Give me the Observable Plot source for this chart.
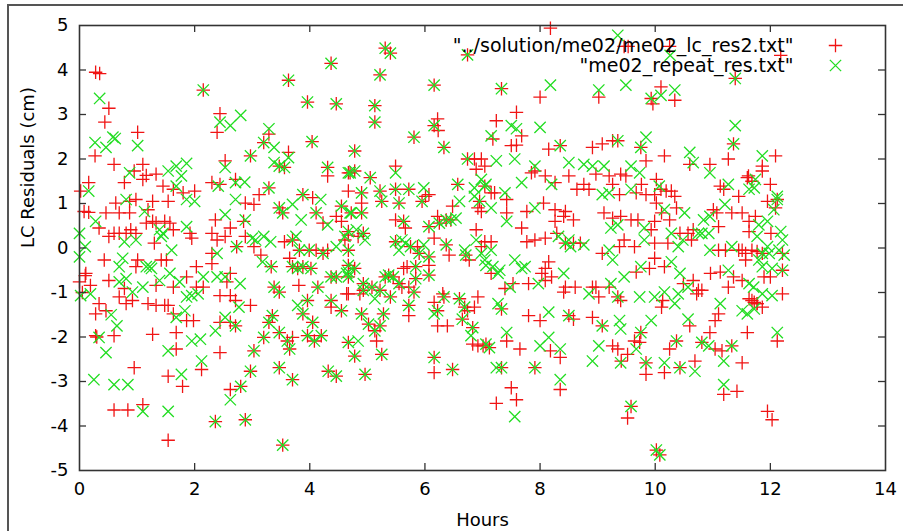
<!DOCTYPE html>
<html>
<head>
<meta charset="utf-8">
<script src="https://cdn.jsdelivr.net/npm/d3@7"></script>
<script src="https://cdn.jsdelivr.net/npm/@observablehq/plot@0.6"></script>
<style>
html, body { margin: 0; padding: 0; background: #fff; }
#wrap { position: relative; width: 903px; height: 531px; overflow: hidden; }
#border { position: absolute; left: 7px; top: 4px; width: 910px; height: 540px; border-left: 2px solid #555; border-top: 2px solid #555; }
#chart { position: absolute; left: 0; top: 0; }
</style>
</head>
<body>
<div id="wrap"><div id="chart"></div><div id="border"></div></div>
<script>
// Series names (legend)
const seriesNames = ["\"../solution/me02/me02_lc_res2.txt\"", "\"me02_repeat_res.txt\""];
const xLabel = "Hours";
const yLabel = "LC Residuals (cm)";
const xTicks = [0, 2, 4, 6, 8, 10, 12, 14];
const yTicks = [-5, -4, -3, -2, -1, 0, 1, 2, 3, 4, 5];

// [hours, residual cm] — points present in both files (same value)
const bothPoints = [
[2.15,3.55],
[4.37,4.15],[3.63,3.77],[3.96,3.28],[4.46,3.24],[3.2,2.37],[4.04,2.39],[3.47,1.84],[3.56,1.81],[2.97,2.07],[3.29,1.35],[3.47,0.9],[3.53,0.79],[3.88,1.2],[4.31,1.81],[4.11,0.79],[4.55,0.94],[4.7,1.69],[2.73,0.03],[3.7,0.18],[3.82,-0.05],[3.99,-0.05],[4.23,-0.12],[3.33,-0.42],[3.7,-0.42],[3.79,-0.46],[3.88,-0.42],[4.02,-0.46],[4.37,-0.65],[4.46,-0.65],[3.38,-0.88],[3.47,-0.99],[3.96,-1.18],[4.14,-0.88],[4.37,-1.18],[4.55,-1.41],[3.88,-1.48],[4.05,-1.67],[2.71,-1.75],[3.35,-1.52],[3.29,-1.67],[3.47,-1.9],[3.2,-2.01],[3.61,-2.09],[3.65,-2.27],[3.96,-1.97],[4.08,-2.09],[4.2,-1.97],[3.03,-2.31],[2.97,-2.77],[3.47,-2.69],[3.7,-2.96],[4.32,-2.77],[4.46,-2.88],[2.8,-3.11],[2.36,-3.9],[2.88,-3.86],[3.53,-4.43],
[5.31,4.49],[5.4,4.38],[6.74,4.34],[5.22,3.89],[6.16,3.66],[5.13,3.2],[5.13,2.83],[6.16,2.75],[5.81,2.49],[6.33,2.26],[4.78,2.18],[4.67,1.69],[4.78,1.73],[5.05,1.58],[4.9,1.24],[4.9,0.79],[4.72,0.79],[5.22,1.28],[5.25,1.05],[5.49,1.32],[5.55,1.01],[5.72,1.32],[5.95,1.05],[5.63,0.6],[6.25,0.56],[6.37,0.63],[6.45,0.63],[6.57,1.43],[4.67,0.37],[4.93,0.33],[4.67,-0.05],[6.07,0.48],[6.37,0.07],[6.71,-0.16],[5.49,0.14],[5.75,0.03],[5.9,-0.12],[6.07,-0.2],[6.74,2.0],[6.95,1.05],[4.67,-0.39],[4.67,-0.65],[4.78,-0.46],[4.93,-0.8],[5.08,-0.88],[5.22,-0.95],[5.31,-0.65],[5.37,-0.61],[5.45,-0.65],[5.55,-0.8],[5.84,-0.69],[6.07,-0.61],[5.84,-0.42],[4.93,-0.95],[4.9,-1.48],[5.28,-1.48],[5.4,-1.1],[5.72,-1.29],[5.81,-0.99],[6.22,-1.41],[6.33,-1.1],[6.6,-1.14],[6.69,-1.33],[6.65,-1.6],[6.83,-1.79],[7.06,-2.16],[5.02,-1.71],[5.13,-1.86],[5.22,-1.75],[5.25,-2.39],[4.78,-2.43],[4.96,-2.84],[4.67,-2.12],[6.16,-2.46],[6.48,-2.73],
[7.33,3.58],[8.35,2.3],[9.35,2.41],[7.04,1.39],[8.44,0.11],[7.33,-1.37],[8.5,-1.52],[9.08,-1.75],[7.12,-2.24],[7.33,-2.69],[7.91,-2.69],[9.35,-1.1],
[9.93,3.36],[11.39,3.81],[11.36,2.34],[9.75,2.26],[9.75,-1.9],[10.37,-2.09],[10.81,-2.12],[11.33,-2.2],[9.84,-2.58],[10.43,-2.69],[9.58,-3.56],[10.02,-4.54],[10.08,-4.65],
[12.12,1.09],[11.86,-0.12],[12.21,-0.5]
];

// points only in the first file (red +)
const redOnlyPoints = [
[0.28,3.95],[0.35,3.92],[0.51,3.14],[0.44,2.83],[1.01,2.6],[0.27,2.07],[0.6,1.88],[1.1,1.88],[0.95,1.73],[1.16,1.63],[1.33,1.66],[0.16,1.47],[0.02,1.28],[0.78,1.47],[1.1,1.54],[1.45,1.39],[1.63,1.32],[1.8,1.24],[2.0,1.28],[1.54,1.05],[0.63,1.01],[0.87,1.05],[0.98,1.09],[1.27,1.05],[1.19,0.86],[0.08,0.82],[0.16,0.8],[0.46,0.79],[0.69,0.79],[0.87,0.79],[0.34,0.45],[0.51,0.26],[0.6,0.33],[0.69,0.33],[0.81,0.33],[0.89,0.41],[0.98,0.33],[1.16,0.56],[1.27,0.6],[1.33,0.56],[1.48,0.6],[1.57,0.56],[1.3,0.11],[1.63,0.41],[1.92,0.33],[1.95,0.22],[0.43,-0.27],[0.0,-0.76],[0.11,-0.57],[0.19,-0.84],[0.34,-1.25],[0.46,-1.41],[0.28,-1.48],[0.51,-0.73],[0.98,-0.42],[1.01,-0.27],[0.78,-0.91],[0.69,-1.1],[0.81,-1.25],[0.92,-1.18],[1.19,-1.25],[1.33,-1.29],[1.48,-1.29],[1.54,-1.29],[1.33,-0.84],[1.42,-0.27],[1.51,-0.27],[1.63,-0.88],[1.63,-1.48],[1.86,-1.63],[1.98,-1.63],[0.28,-1.97],[0.6,-1.97],[1.27,-1.94],[1.68,-2.27],[1.68,-1.9],[2.12,-2.73],[0.95,-2.69],[1.54,-2.88],[1.79,-3.11],[0.6,-3.64],[0.84,-3.64],[1.1,-3.52],[1.54,-4.32],[2.03,-0.88],[2.15,-0.88],[2.03,-0.42],[1.86,-0.65],[0.05,-1.0],[0.1,-0.62],[0.3,-2.0],
[2.44,3.02],[2.39,2.6],[3.29,2.56],[3.63,2.15],[2.53,1.96],[2.3,1.47],[2.44,1.43],[2.71,1.54],[2.88,1.01],[3.03,0.98],[3.12,1.2],[4.05,1.13],[2.36,0.63],[2.62,0.45],[2.85,0.6],[4.23,0.56],[4.46,0.71],[4.55,0.6],[4.31,1.62],[2.3,0.33],[2.39,0.18],[2.53,0.26],[2.3,-0.12],[2.88,0.26],[3.03,0.03],[3.56,0.14],[4.11,-0.05],[4.31,-0.05],[4.61,0.18],[4.67,0.29],[3.15,-0.16],[3.65,-0.23],[2.3,-0.35],[2.62,-0.57],[2.56,-0.76],[2.44,-1.07],[2.62,-1.07],[2.71,-1.18],[2.97,-1.29],[3.81,-0.84],[4.37,-1.33],[4.64,-1.03],[2.44,-1.67],[2.62,-1.67],[3.7,-2.01],[2.44,-2.35],[2.62,-3.18],
[6.22,2.9],[6.23,2.64],[5.49,1.84],[4.67,1.28],[4.9,1.01],[6.01,1.16],[6.07,1.2],[5.49,0.63],[5.66,0.45],[6.22,0.71],[6.48,0.94],[4.84,0.26],[6.16,0.22],[6.42,-0.16],[6.77,-0.27],[6.89,0.41],[6.98,0.82],[6.92,0.9],[5.87,0.03],[6.86,2.0],[6.98,2.0],[6.89,1.77],[5.6,-0.88],[5.72,-0.88],[5.63,-0.46],[5.69,-0.42],[6.07,-0.39],[4.67,-1.03],[4.87,-1.03],[5.72,-1.52],[6.16,-1.22],[6.31,-1.03],[6.22,-1.75],[6.39,-1.75],[6.74,-1.41],[6.86,-1.33],[6.92,-1.1],[6.83,-2.16],[6.92,-2.2],[7.01,-2.2],[5.16,-2.09],[6.16,-2.8],[6.98,0.03],
[8.18,4.94],[8.0,3.39],[9.02,3.39],[7.59,3.05],[7.24,2.86],[7.68,2.52],[7.18,2.45],[7.5,2.3],[7.59,2.31],[8.15,2.22],[8.91,2.26],[9.08,2.34],[9.26,2.41],[7.04,1.84],[7.85,1.69],[7.91,1.73],[8.97,1.66],[9.2,1.62],[7.21,1.24],[8.09,1.62],[8.26,1.47],[8.5,1.62],[8.64,1.32],[8.76,1.43],[8.85,1.32],[9.26,1.43],[9.38,1.2],[7.15,1.24],[7.42,1.09],[7.42,0.79],[7.68,0.45],[7.77,0.82],[8.06,1.01],[8.26,0.86],[8.44,0.82],[8.41,0.71],[8.26,0.6],[8.58,0.63],[9.11,0.79],[9.26,0.67],[7.04,0.14],[7.15,0.14],[7.77,0.14],[7.91,0.18],[8.09,0.22],[8.29,0.33],[8.58,0.11],[8.7,0.11],[9.08,-0.12],[9.38,0.03],[7.15,-0.57],[7.39,-0.91],[7.53,-0.8],[7.8,-0.8],[8.03,-0.57],[8.09,-0.46],[8.15,-0.31],[8.2,-0.65],[8.09,-0.73],[8.44,-0.88],[8.41,-0.99],[8.61,-0.88],[8.91,-0.88],[8.97,-0.88],[9.02,-1.1],[9.2,-0.88],[7.8,-1.52],[8.0,-1.63],[8.58,-1.6],[8.91,-1.56],[7.42,-2.09],[7.65,-2.27],[8.18,-2.31],[8.35,-2.46],[9.26,-2.2],[9.35,-2.27],[9.41,-2.54],[7.5,-3.14],[7.59,-3.41],[7.24,-3.49],[8.35,-3.18],
[9.46,4.53],[9.53,4.53],[10.25,4.53],[12.18,4.33],
[10.1,3.62],[9.96,3.24],[10.34,3.32],[11.27,2.0],[10.16,2.07],[9.84,1.96],[10.6,1.88],[10.95,1.88],[9.4,1.66],[9.49,1.62],[9.76,1.43],[10.02,1.54],[10.1,1.32],[10.28,1.28],[10.34,1.16],[9.67,1.24],[9.84,1.2],[9.99,1.2],[10.02,1.01],[10.19,1.28],[10.37,0.9],[9.4,0.71],[9.58,0.63],[9.7,0.63],[9.93,0.41],[9.99,0.6],[10.11,0.79],[10.25,0.63],[10.43,0.33],[10.57,0.33],[10.66,0.41],[11.01,0.86],[11.07,0.79],[11.13,1.39],[11.19,1.32],[11.1,0.48],[11.33,0.79],[11.45,1.16],[11.62,1.62],[9.46,0.18],[9.64,0.03],[9.99,0.11],[10.22,0.11],[10.63,0.18],[11.1,-0.05],[11.22,-0.05],[11.45,-0.05],[11.57,-0.12],[11.68,-0.05],[9.67,-0.54],[9.9,-0.46],[9.99,-0.23],[10.16,-0.42],[10.49,-0.8],[10.66,-0.73],[10.72,-1.03],[10.81,-0.95],[10.96,-0.57],[11.13,-0.54],[11.27,-0.88],[11.36,-0.65],[11.51,-0.05],[11.68,-1.18],[11.77,-1.25],[9.4,-1.18],[10.13,-1.18],[10.11,-1.33],[10.75,-0.95],[11.04,-1.63],[11.1,-1.48],[9.64,-2.09],[9.73,-2.12],[9.52,-2.39],[10.25,-2.27],[10.6,-1.75],[10.95,-1.9],[11.04,-2.27],[11.16,-2.31],[9.84,-2.84],[10.16,-2.8],[10.69,-2.54],[11.19,-3.29],[11.42,-3.22],[9.52,-3.82],
[12.09,2.07],[11.86,1.84],[11.86,1.73],[11.6,1.58],[11.68,1.5],[12.0,1.43],[11.95,1.05],[12.09,0.9],[11.51,0.79],[11.63,0.6],[11.74,0.71],[11.63,0.37],[12.01,0.33],[11.57,-0.27],[11.77,-0.08],[12.21,-0.12],[11.51,-0.73],[11.89,-0.65],[12.0,-0.65],[12.21,-1.03],[11.63,-1.14],[11.72,-1.22],[11.77,-1.25],[11.86,-1.33],[11.6,-1.9],[12.12,-2.09],[11.51,-2.58],[11.95,-3.67],[12.03,-3.86]
];

// points only in the second file (green x)
const greenOnlyPoints = [
[0.35,3.36],[0.27,2.37],[0.46,2.26],[0.58,2.49],[0.62,2.46],[1.01,2.3],[0.87,1.69],[1.54,1.73],[1.68,1.84],[1.86,1.9],[1.77,1.62],[0.16,1.28],[1.68,1.39],[1.86,1.09],[2.0,1.05],[0.81,1.09],[1.13,0.82],[0.28,0.6],[0.78,0.14],[0.98,0.18],[1.39,0.41],[1.42,0.26],[1.45,0.33],[1.6,-0.05],[1.86,0.48],[0.0,0.33],[0.1,0.03],[0.02,-1.07],[0.19,-1.03],[0.69,-0.42],[0.75,-0.23],[0.69,-0.76],[0.81,-0.69],[0.92,-0.99],[1.1,-0.88],[1.16,-0.42],[1.22,-0.42],[1.25,-0.46],[1.39,-0.73],[1.57,-0.57],[1.74,-0.76],[1.68,-1.56],[1.83,-1.41],[1.86,-1.1],[1.95,-1.07],[2.06,-1.03],[2.15,-0.65],[0.34,-2.01],[0.46,-2.35],[1.54,-2.31],[1.95,-2.09],[2.1,-2.05],[2.12,-2.54],[0.25,-2.96],[0.6,-3.07],[0.84,-3.07],[1.77,-2.84],[1.1,-3.67],[1.54,-3.67],[0.0,-0.2],[0.55,-1.5],[0.65,-1.75],
[2.8,2.98],[2.62,2.75],[2.44,2.83],[3.29,2.68],[3.38,2.26],[3.63,2.03],[3.38,1.92],[2.53,1.81],[2.41,1.39],[2.71,1.47],[2.87,1.48],[2.71,1.09],[3.7,0.98],[4.19,1.09],[2.53,0.75],[2.88,0.63],[3.85,0.63],[4.31,0.52],[4.7,0.79],[2.39,-0.12],[3.0,0.22],[3.06,0.18],[3.2,0.26],[3.32,0.14],[3.76,0.26],[4.46,0.03],[4.61,0.26],[3.18,-0.31],[4.64,-0.57],[4.67,-0.54],[2.39,-0.65],[2.53,-0.65],[2.79,-0.8],[2.77,-1.33],[3.79,-1.29],[2.53,-1.56],[2.36,-1.86],[2.62,-3.41],
[5.49,1.69],[5.98,1.35],[6.54,0.67],[6.6,1.05],[4.81,0.41],[4.96,0.18],[6.69,-0.05],[5.6,0.18],[5.66,0.11],[5.98,0.07],[5.55,-0.05],[6.98,1.54],[7.06,1.43],[6.86,1.35],[6.86,1.16],[5.13,-1.14],[6.16,-1.48],[6.8,-1.97],[4.84,-2.09],[6.89,0.18],[6.98,-0.12],[7.06,-0.39],
[8.18,3.66],[9.02,3.55],[7.5,2.75],[7.59,2.68],[7.15,2.52],[8.0,2.71],[7.24,1.96],[7.56,2.0],[7.91,1.84],[8.5,1.92],[8.76,1.88],[8.91,1.84],[9.11,1.84],[7.39,1.24],[7.68,1.47],[8.2,1.43],[9.08,1.2],[9.2,1.24],[7.15,0.9],[7.42,0.6],[7.91,0.9],[9.23,0.45],[9.35,0.52],[7.15,-0.05],[8.32,0.26],[8.5,0.18],[8.53,0.03],[8.76,0.07],[9.2,-0.05],[9.26,-0.27],[7.04,-0.27],[7.18,-0.42],[7.27,-0.57],[7.3,-0.5],[7.48,-0.88],[7.56,-0.27],[7.68,-0.46],[7.74,-0.42],[7.97,-0.8],[8.41,-0.57],[8.85,-1.03],[9.23,-0.8],[7.27,-1.25],[8.15,-1.44],[9.38,-1.63],[7.42,-1.9],[8.0,-2.2],[8.15,-2.01],[8.35,-2.27],[8.91,-2.54],[9.02,-2.2],[7.24,-2.69],[8.35,-2.96],[7.56,-3.79],
[9.35,4.78],[10.26,4.33],
[9.49,3.66],[10.34,3.55],[10.1,3.43],[11.39,2.75],[9.84,2.49],[10.6,2.15],[10.66,1.92],[10.95,1.69],[9.58,1.84],[9.73,1.69],[10.07,1.39],[9.58,1.32],[10.16,0.86],[10.51,0.79],[9.81,0.45],[10.28,0.33],[10.84,0.63],[10.95,0.71],[11.27,1.43],[11.21,0.98],[11.74,1.54],[9.81,0.18],[10.4,0.03],[10.48,0.18],[10.75,0.33],[10.81,0.33],[10.93,0.33],[10.95,-0.05],[11.33,0.03],[9.46,-0.65],[9.75,-0.42],[10.16,-0.99],[10.28,-0.31],[10.43,-0.57],[10.57,-0.88],[11.27,-0.5],[11.63,-0.8],[11.71,-0.88],[9.73,-1.1],[9.99,-1.1],[10.34,-1.25],[10.4,-1.03],[11.13,-1.25],[9.93,-1.63],[9.4,-1.82],[9.67,-2.27],[10.57,-1.6],[10.93,-2.2],[11.19,-2.54],[9.4,-2.58],[10.16,-2.58],[10.69,-2.77],[11.19,-3.07],
[11.86,2.07],[11.63,1.32],[11.72,1.35],[12.12,1.16],[12.06,0.86],[11.8,0.52],[11.77,0.26],[11.95,0.6],[12.18,0.37],[12.21,0.18],[11.95,0.03],[11.98,-0.12],[11.8,-0.27],[12.24,-0.16],[12.15,-0.05],[11.86,-0.42],[12.03,-0.46],[11.86,-1.03],[12.03,-1.07],[11.51,-1.41],[11.6,-1.48],[11.72,-1.37],[12.12,-1.9]
];

const redColor = "#f01414";
const greenColor = "#22dd22";

const W = 903, H = 531;
const mL = 79, mR = 18, mT = 25, mB = 61;
const plotW = W - mL - mR, plotH = H - mT - mB;
const tick = 7;
const plusR = 4.4;
const timesR = 5.2;

const redSeries = bothPoints.concat(redOnlyPoints);
const greenSeries = bothPoints.concat(greenOnlyPoints);

const font = "DejaVu Sans";

const chart = Plot.plot({
  width: W,
  height: H,
  marginLeft: mL, marginRight: mR, marginTop: mT, marginBottom: mB,
  style: { fontFamily: font, background: "transparent", color: "#000" },
  x: { domain: [0, 14] },
  y: { domain: [-5, 5] },
  marks: [
    Plot.dot(redSeries, { x: d => d[0], y: d => d[1], symbol: "plus", r: plusR, stroke: redColor, strokeWidth: 1.3 }),
    Plot.dot(greenSeries, { x: d => d[0], y: d => d[1], symbol: "times", r: timesR, stroke: greenColor, strokeWidth: 1.3 }),
    Plot.ruleX(xTicks.slice(1, -1), { x: d => d, insetTop: plotH - tick, stroke: "#333", strokeWidth: 1.3 }),
    Plot.ruleX(xTicks.slice(1, -1), { x: d => d, insetBottom: plotH - tick, stroke: "#333", strokeWidth: 1.3 }),
    Plot.ruleY(yTicks.slice(1, -1), { y: d => d, insetRight: plotW - tick, stroke: "#333", strokeWidth: 1.3 }),
    Plot.ruleY(yTicks.slice(1, -1), { y: d => d, insetLeft: plotW - tick, stroke: "#333", strokeWidth: 1.3 }),
    Plot.frame({ stroke: "#333", strokeWidth: 1.6 }),
    Plot.axisX(xTicks, { tickSize: 0, tickPadding: 12, fontSize: 18, label: null, tickFormat: d => String(d) }),
    Plot.axisY(yTicks, { tickSize: 0, tickPadding: 11, fontSize: 18, label: null, tickFormat: d => String(d) }),
    Plot.text([xLabel], { text: d => d, frameAnchor: "bottom", dy: 50, fontSize: 18, lineAnchor: "middle" }),
    Plot.text([yLabel], { text: d => d, frameAnchor: "left", dx: -51, rotate: -90, fontSize: 18, lineAnchor: "middle" }),
    Plot.text([seriesNames[0]], { text: d => d, frameAnchor: "top-right", dx: -92, dy: 20, textAnchor: "end", lineAnchor: "middle", fontSize: 19 }),
    Plot.text([seriesNames[1]], { text: d => d, frameAnchor: "top-right", dx: -92, dy: 40, textAnchor: "end", lineAnchor: "middle", fontSize: 19 }),
    Plot.dot([seriesNames[0]], { frameAnchor: "top-right", dx: -50, dy: 20, symbol: "plus", r: plusR, stroke: redColor, strokeWidth: 1.3 }),
    Plot.dot([seriesNames[1]], { frameAnchor: "top-right", dx: -50, dy: 40, symbol: "times", r: timesR, stroke: greenColor, strokeWidth: 1.3 })
  ]
});
document.getElementById("chart").appendChild(chart);
</script>
</body>
</html>
